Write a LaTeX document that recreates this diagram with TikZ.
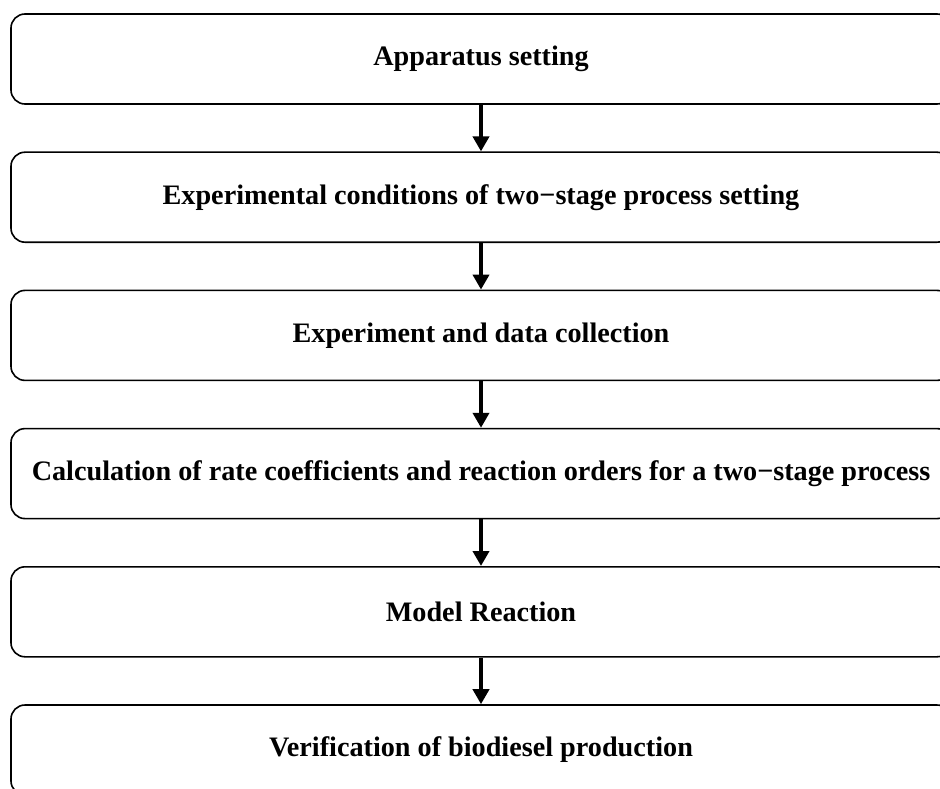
\documentclass[tikz,border=0pt]{standalone}
\usepackage{fontspec}
\setmainfont{Liberation Serif}
\usetikzlibrary{arrows.meta, positioning}

\begin{document}
\begin{tikzpicture}[node distance = 46.6pt,
  stage/.style = {draw, line width=1.6pt, rounded corners=14pt,
                  minimum width=940pt, minimum height=90pt, inner sep=0pt,
                  font=\bfseries\fontsize{28.2}{32}\selectfont},
  flow/.style  = {line width=4pt, -{Triangle[width=16pt,length=15pt]}}]
\useasboundingbox (0,0) rectangle (940pt,-789pt);
%
\node (s1) [stage] at (481pt,-59pt) {Apparatus setting};
\node (s2) [stage, below=of s1] {Experimental conditions of two−stage process setting};
\node (s3) [stage, below=of s2] {Experiment and data collection};
\node (s4) [stage, below=of s3] {Calculation of rate coefficients and reaction orders for a two−stage process};
\node (s5) [stage, below=of s4] {Model Reaction};
\node (s6) [stage, below=of s5] {Verification of biodiesel production};
%
\foreach \a/\b in {s1/s2, s2/s3, s3/s4, s4/s5, s5/s6}
  \draw[flow] (\a.south) -- (\b.north);
\end{tikzpicture}
\end{document}
